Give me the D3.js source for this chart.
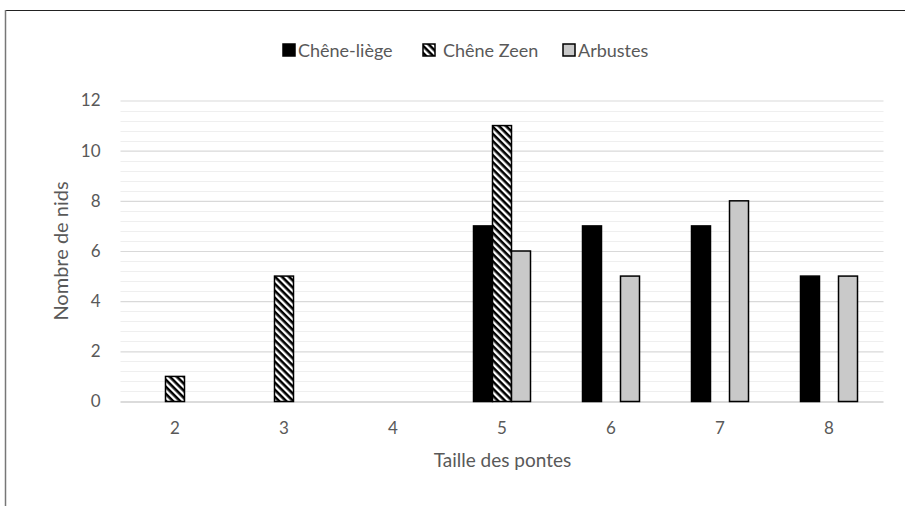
<!DOCTYPE html>
<html>
<head>
<meta charset="utf-8">
<script src="https://cdn.jsdelivr.net/npm/d3@7"></script>
<style>
  html, body { margin: 0; padding: 0; background: #fff; }
  svg { display: block; }
  text { font-family: Lato, "Open Sans", sans-serif; fill: #595959; }
</style>
</head>
<body>
<svg id="chart" width="905" height="506"></svg>
<script>
// Nest clutch sizes by nesting support
const categories = ["2", "3", "4", "5", "6", "7", "8"];
const seriesNames = ["Chêne-liège", "Chêne Zeen", "Arbustes"];
const chenLiege = [0, 0, 0, 7, 7, 7, 5];
const chenZeen  = [1, 5, 0, 11, 0, 0, 0];
const arbustes  = [0, 0, 0, 6, 5, 8, 5];
const yTicks = [0, 2, 4, 6, 8, 10, 12];

const seriesValues = [chenLiege, chenZeen, arbustes];
const fills = ["#000000", "url(#hatch)", "#c9c9c9"];

const svg = d3.select("#chart");
const W = 905, H = 506;
const plot = { left: 120.5, right: 883.5, top: 100.5, bottom: 401.5 };

// Diagonal hatch for the second series
const defs = svg.append("defs");
const pat = defs.append("pattern")
  .attr("id", "hatch")
  .attr("patternUnits", "userSpaceOnUse")
  .attr("width", 5).attr("height", 5)
  .attr("patternTransform", "rotate(45)");
pat.append("rect").attr("width", 5).attr("height", 5).attr("fill", "#fff");
pat.append("rect").attr("x", 0).attr("y", 0).attr("width", 5).attr("height", 2.6).attr("fill", "#000");

// Outer frame
svg.append("line").attr("x1", 5).attr("x2", W).attr("y1", 10.5).attr("y2", 10.5)
  .attr("stroke", "#222").attr("stroke-width", 1);
svg.append("line").attr("x1", 5.5).attr("x2", 5.5).attr("y1", 10).attr("y2", H)
  .attr("stroke", "#777").attr("stroke-width", 1.5);

const x = d3.scaleBand().domain(categories).range([plot.left, plot.right])
  .paddingInner(0.477).paddingOuter(0.2385);
const xs = d3.scaleBand().domain(seriesNames).range([0, x.bandwidth()]);
const y = d3.scaleLinear().domain([0, 12]).range([plot.bottom, plot.top]);

// Minor gridlines
const minor = d3.range(0.4, 12, 0.4).filter(v => Math.abs(v / 2 - Math.round(v / 2)) > 1e-6);
svg.append("g").selectAll("line").data(minor).join("line")
  .attr("x1", plot.left).attr("x2", plot.right)
  .attr("y1", d => Math.round(y(d)) + 0.5).attr("y2", d => Math.round(y(d)) + 0.5)
  .attr("stroke", "#efefef").attr("stroke-width", 1);

// Major gridlines and y tick labels
const yAxis = svg.append("g")
  .attr("transform", `translate(${plot.left},0)`)
  .call(d3.axisLeft(y).tickValues(yTicks).tickSize(-(plot.right - plot.left)).tickPadding(20).tickFormat(d3.format("d")));
yAxis.select(".domain").remove();
yAxis.selectAll(".tick line").attr("stroke", d => d === 0 ? "#cfcfcf" : "#d9d9d9").attr("stroke-width", d => d === 0 ? 1.5 : 1.2);
yAxis.selectAll(".tick text").style("font-size", "17px").attr("fill", "#595959").attr("font-family", null);

// x tick labels
const xAxis = svg.append("g")
  .attr("transform", `translate(0,${plot.bottom})`)
  .call(d3.axisBottom(x).tickSize(0).tickPadding(20));
xAxis.select(".domain").remove();
xAxis.selectAll(".tick text").style("font-size", "17px").attr("fill", "#595959").attr("font-family", null);

// Bars
const bars = [];
seriesValues.forEach((vals, si) => {
  vals.forEach((v, ci) => {
    if (v > 0) bars.push({ s: seriesNames[si], si, cat: categories[ci], v });
  });
});
svg.append("g").selectAll("rect").data(bars).join("rect")
  .attr("x", d => x(d.cat) + xs(d.s))
  .attr("y", d => y(d.v))
  .attr("width", xs.bandwidth())
  .attr("height", d => y(0) - y(d.v))
  .attr("fill", d => fills[d.si])
  .attr("stroke", "#000")
  .attr("stroke-width", 1.5);

// Axis titles
svg.append("text")
  .attr("x", (plot.left + plot.right) / 2 + 0.5).attr("y", 467)
  .attr("text-anchor", "middle").style("font-size", "19px")
  .text("Taille des pontes");
svg.append("text")
  .attr("transform", `translate(67.5,251) rotate(-90)`)
  .attr("text-anchor", "middle").style("font-size", "20px")
  .text("Nombre de nids");

// Legend
const legendX = [283, 423, 563];
const lg = svg.append("g").selectAll("g").data(seriesNames).join("g")
  .attr("transform", (d, i) => `translate(${legendX[i]},44)`);
lg.append("rect").attr("width", 12).attr("height", 12)
  .attr("fill", (d, i) => fills[i]).attr("stroke", "#000").attr("stroke-width", 1.5);
lg.append("text").attr("x", (d, i) => i === 1 ? 20 : 15).attr("y", 13)
  .style("font-size", "18px").text(d => d);
</script>
</body>
</html>
